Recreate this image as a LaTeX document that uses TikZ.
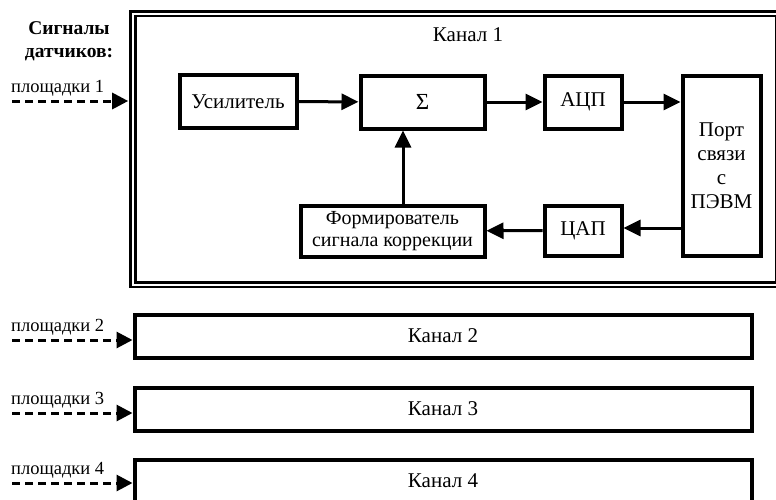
\documentclass[tikz,border=0pt]{standalone}
\usepackage{fontspec}
\setmainfont{Liberation Serif}
\usetikzlibrary{positioning,arrows.meta}

\begin{document}
\begin{tikzpicture}[x=1pt,y=-1pt,
  every node/.style={font=\fontsize{21}{24}\selectfont},
  blk/.style={draw, line width=4pt, inner sep=0pt, align=center},
  arr/.style={line width=3pt, -{Triangle[length=17pt,width=16pt]}},
  inp/.style={line width=3pt, dash pattern=on 8pt off 5pt, -{Triangle[length=16pt,width=16pt]}},
  lbl/.style={anchor=west, inner sep=0pt, font=\fontsize{18.5}{22}\selectfont}]
  \useasboundingbox (0,0) rectangle (776,499);

  % channel 1 with its inner blocks
  \node[draw, line width=2.6pt, double=white, double distance=2pt,
        minimum width=646pt, minimum height=271pt] (ch1) at (456,149) {};
  \node (k1) at (468,35) {Канал 1};

  \node[blk, minimum width=117pt, minimum height=53pt] (usil) at (238,101.5) {Усилитель};
  \node[blk, minimum width=124pt, minimum height=53pt] (sum) at (422.5,102) {\fontsize{23}{24}\selectfont Σ};
  \node[blk, minimum width=77pt, minimum height=53pt] (adc) at (583,102) {АЦП};
  \node[blk, minimum width=78pt, minimum height=180pt] (port) at (721.5,165.5) {Порт\\связи\\с\\ПЭВМ};
  \node[blk, minimum width=77pt, minimum height=50pt] (dac) at (583,230.5) {ЦАП};
  \node[blk, minimum width=184pt, minimum height=51pt, font=\fontsize{20}{22.5}\selectfont] (form) at (392.5,231)
    {Формирователь\\сигнала коррекции};

  \draw[arr] (usil) -- (sum);
  \draw[arr] (sum) -- (adc);
  \draw[arr] (adc.east) -- (adc.east -| port.west);
  \draw[arr] (port.west |- 0,228) -- (dac.east |- 0,228);
  \draw[arr] (dac) -- (form);
  \draw[arr] ([xshift=10.5pt]form.north) -- ([xshift=10.5pt]form.north |- sum.south);

  % channels 2-4
  \node[blk, minimum width=617pt, minimum height=43pt] (ch2) at (443,336) {Канал 2};
  \node[blk, minimum width=617pt, minimum height=43pt] (ch3) at (443,409) {Канал 3};
  \node[blk, minimum width=617pt, minimum height=43pt] (ch4) at (443,481) {Канал 4};

  % sensor inputs
  \node[font=\bfseries\fontsize{19.5}{23}\selectfont, align=center] (sig) at (69,41) {Сигналы\\датчиков:};

  \coordinate (in1) at (12,101);
  \coordinate (in2) at (12,340);
  \coordinate (in3) at (12,413);
  \coordinate (in4) at (12,483);
  \draw[inp] (in1) -- ([xshift=-3.5pt]ch1.west |- in1);
  \draw[inp] (in2) -- (ch2.west |- in2);
  \draw[inp] (in3) -- (ch3.west |- in3);
  \draw[inp] (in4) -- (ch4.west |- in4);

  \node[lbl] (p1) at (11,88) {площадки 1};
  \node[lbl] (p2) at (11,327) {площадки 2};
  \node[lbl] (p3) at (11,400) {площадки 3};
  \node[lbl] (p4) at (11,470) {площадки 4};
\end{tikzpicture}
\end{document}
